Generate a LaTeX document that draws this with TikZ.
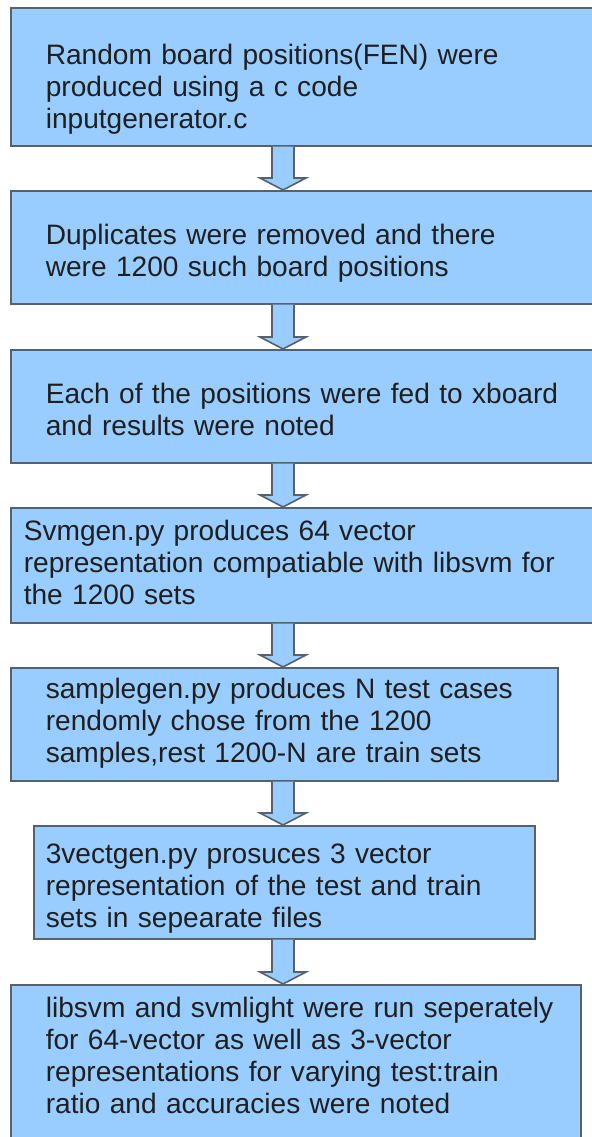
\documentclass[tikz,border=0pt]{standalone}
\usepackage{fontspec}
\setmainfont{Liberation Sans}
\usepackage{tikz}
\usetikzlibrary{calc}

\definecolor{boxc}{HTML}{99CCFF}
\definecolor{edgec}{HTML}{56616C}

\begin{document}
\begin{tikzpicture}[x=0.5pt,y=-0.5pt,
        stage/.style={draw=edgec,fill=boxc,line width=0.8pt,anchor=north west,
            inner xsep=0pt,inner ysep=0pt,align=left,text=black!88,
            font=\fontsize{14.05pt}{15.9pt}\selectfont,
            execute at begin node={\leftskip=#1}},
        stage/.default=17.5pt,
        flowarrow/.style={draw=edgec,fill=boxc,line width=0.8pt,line join=miter}]
        \useasboundingbox (0,0) rectangle (592,1137);
        \clip (0,0) rectangle (592,1137);
        \coordinate (spine) at (283,0);

        \node [stage,text width=300pt,text height=28.5pt,text depth=40.5pt] (s1) at (10,7)
            {Random board positions(FEN) were\\produced using a c code\\inputgenerator.c};
        \node [stage,text width=300pt,text height=27pt,text depth=29.5pt] (s2) at (10,190)
            {Duplicates were removed and there\\were 1200 such board positions};
        \node [stage,text width=300pt,text height=27pt,text depth=29.5pt] (s3) at (10,349)
            {Each of the positions were fed to xboard\\and results were noted};
        \node [stage=6.5pt,text width=300pt,text height=16.5pt,text depth=41pt] (s4) at (10,507)
            {Svmgen.py produces 64 vector\\representation compatiable with libsvm for\\the 1200 sets};
        \node [stage,text width=273.5pt,text height=15.5pt,text depth=41pt] (s5) at (10,667)
            {samplegen.py produces N test cases\\rendomly chose from the 1200\\samples,rest 1200-N are train sets};
        \node [stage=6pt,text width=250.5pt,text height=19pt,text depth=37.5pt] (s6) at (33,825)
            {3vectgen.py prosuces 3 vector\\representation of the test and train\\sets in sepearate files};
        \node [stage,text width=285pt,text height=16.5pt,text depth=66.5pt] (s7) at (10,984)
            {libsvm and svmlight were run seperately\\for 64-vector as well as 3-vector\\representations for varying test:train\\ratio and accuracies were noted};

        % block arrows between the steps
        \foreach \a/\b in {s1/s2,s2/s3,s3/s4,s4/s5,s5/s6,s6/s7}
            \draw [flowarrow] ($(\a.south -| spine)+(-11,0)$) -- ($(\b.north -| spine)+(-11,-12)$)
                -- ++(-12,0) -- (\b.north -| spine) -- ++(23,-12) -- ++(-12,0)
                -- ($(\a.south -| spine)+(11,0)$);
    \end{tikzpicture}
\end{document}
